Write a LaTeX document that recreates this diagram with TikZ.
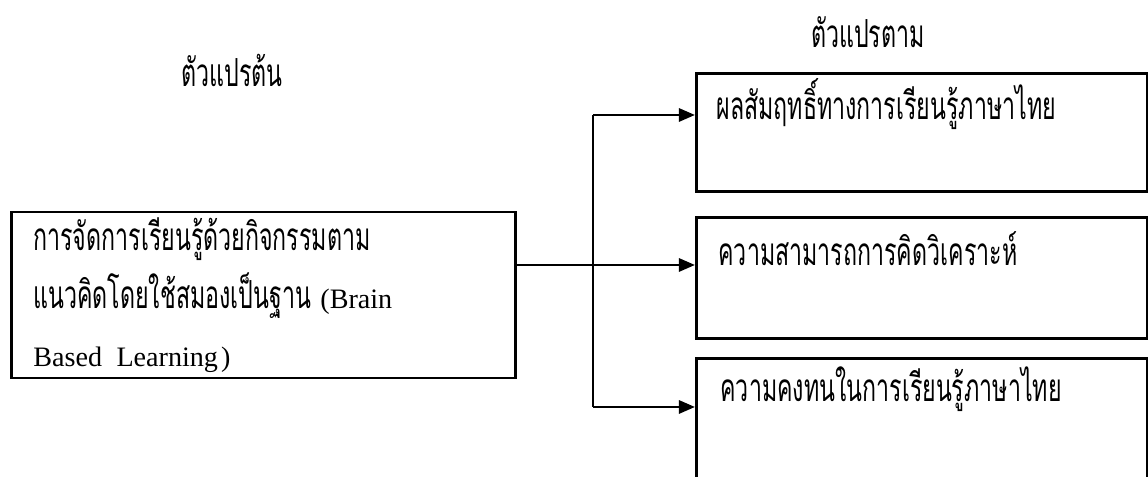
\documentclass[tikz,border=0pt]{standalone}
\usepackage{fontspec}
\setmainfont{Liberation Serif}
\newfontfamily\thaifont[Script=Thai,FakeStretch=0.6]{Loma}
\usetikzlibrary{arrows.meta}

\begin{document}
\begin{tikzpicture}[x=0.01cm,y=-0.01cm,
  box/.style={draw,thick,rectangle,inner sep=0pt},
  txt/.style={font=\thaifont\fontsize{11}{16.5}\selectfont},
  arr/.style={draw,thick,-{Triangle[length=1.6mm,width=1.3mm]}}]
\useasboundingbox (0,0) rectangle (1148,477);

\node[txt] (h1) at (232,70) {ตัวแปรต้น};
\node[txt] (h2) at (868,32) {ตัวแปรตาม};

\node[box, minimum width=5.03cm, minimum height=1.66cm, text width=4.6cm, align=left,
  font=\fontsize{8}{16.5}\selectfont] (0) at (263.5,295)
  {{\thaifont\fontsize{11}{16.5}\selectfont การจัดการเรียนรู้ด้วยกิจกรรมตาม}\\
   {\thaifont\fontsize{11}{16.5}\selectfont แนวคิดโดยใช้สมองเป็นฐาน} (Brain\\
   Based\hspace{0.5mm} Learning\hspace{0.3mm})};

\node[box, minimum width=4.51cm, minimum height=1.18cm, anchor=north west] (1) at (695,72) {};
\node[box, minimum width=4.51cm, minimum height=1.21cm, anchor=north west] (2) at (695,216) {};
\node[box, minimum width=4.51cm, minimum height=1.2cm, anchor=north west] (3) at (695,357) {};

\node[txt, anchor=base west] (t1) at (704,120) {ผลสัมฤทธิ์ทางการเรียนรู้ภาษาไทย};
\node[txt, anchor=base west] (t2) at (706,266) {ความสามารถการคิดวิเคราะห์};
\node[txt, anchor=base west] (t3) at (708,402) {ความคงทนในการเรียนรู้ภาษาไทย};

\coordinate (s) at (0.east |- 0,265);
\coordinate (a1) at (593,115);
\coordinate (a3) at (593,407);

\path[arr] (s) -- (s -| 2.west);
\path[arr] (a1) -- (a1 -| 1.west);
\path[arr] (a3) -- (a3 -| 3.west);
\path[draw,thick,-] (a1) -- (a3);
\end{tikzpicture}
\end{document}
